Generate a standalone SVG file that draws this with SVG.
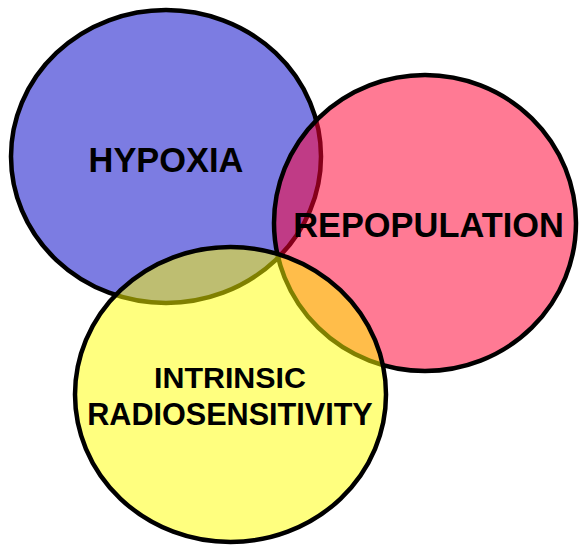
<svg xmlns="http://www.w3.org/2000/svg" width="580" height="545" viewBox="0 0 580 545">
<style>
.c{stroke:#000;stroke-width:4.5}
.t{font-family:"Liberation Sans",Arial,sans-serif;font-weight:bold;fill:#000;text-anchor:middle}
</style>
<rect width="580" height="545" fill="#fff"/>
<g id="hypoxia">
<ellipse class="c" cx="166" cy="156.5" rx="155" ry="146.5" fill="#7C7CE2"/>
</g>
<g id="repopulation">
<ellipse class="c" cx="425" cy="223" rx="151" ry="148" fill="rgb(255,0,50)" fill-opacity="0.52"/>
</g>
<g id="intrinsic">
<ellipse class="c" cx="230.5" cy="394.5" rx="155.5" ry="147.5" fill="rgb(255,255,0)" fill-opacity="0.5"/>
</g>
<g id="labels">
<text class="t" x="166" y="172" font-size="34.4">HYPOXIA</text>
<text class="t" x="428.5" y="237" font-size="34.4">REPOPULATION</text>
<text class="t" x="230" y="388" font-size="30.4">INTRINSIC</text>
<text class="t" x="230" y="425" font-size="30.6">RADIOSENSITIVITY</text>
</g>
</svg>
